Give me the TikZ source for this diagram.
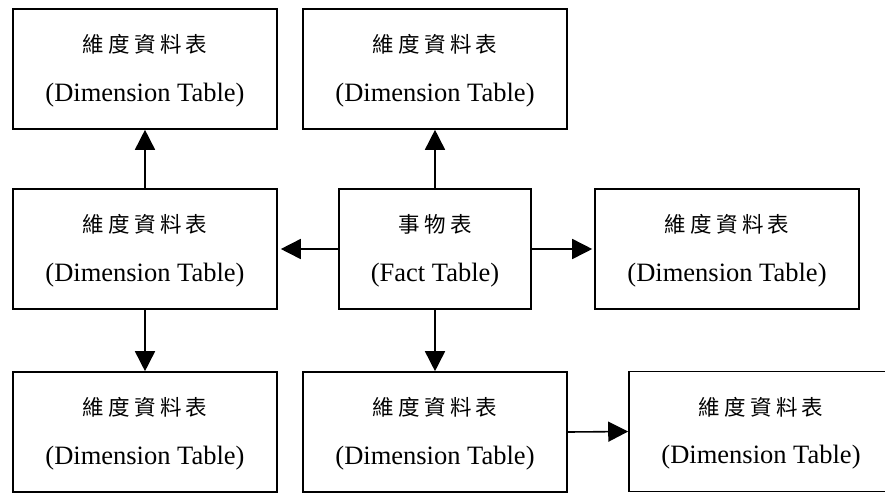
\documentclass[tikz,border=0pt]{standalone}
\usepackage{fontspec}
\setmainfont{Liberation Serif}
\newfontfamily\cjkfont[LetterSpace=20]{Noto Sans CJK TC}
\usetikzlibrary{arrows.meta}

\tikzset{
  tablebox/.style={draw=black, line width=1.6pt, fill=white, align=center,
    minimum width=264pt, minimum height=120pt, inner sep=0pt,
    font=\fontsize{26.5}{48.5}\selectfont},
  factbox/.style={tablebox, minimum width=192pt},
  link/.style={draw=black, line width=1.6pt,
    -{Triangle[length=20pt, width=20pt]}},
}
\newcommand{\zhline}[1]{{\rule{0pt}{22pt}\cjkfont\fontsize{21.5}{48}\selectfont #1}}

\begin{document}
\begin{tikzpicture}[x=1pt, y=-1pt]
  \useasboundingbox (0,0) rectangle (885,493);
  \clip (0,0) rectangle (885,493);
  \fill[white] (0,0) rectangle (885,493);

  % dimension tables around the fact table
  \node[tablebox] (tl) at (145,69)  {\zhline{維度資料表}\\(Dimension Table)};
  \node[tablebox] (tm) at (435,69)  {\zhline{維度資料表}\\(Dimension Table)};
  \node[tablebox] (ml) at (145,249) {\zhline{維度資料表}\\(Dimension Table)};
  \node[factbox]  (ft) at (435,249) {\zhline{事物表}\\(Fact Table)};
  \node[tablebox] (mr) at (727,249) {\zhline{維度資料表}\\(Dimension Table)};
  \node[tablebox] (bl) at (145,432) {\zhline{維度資料表}\\(Dimension Table)};
  \node[tablebox] (bm) at (435,432) {\zhline{維度資料表}\\(Dimension Table)};
  \node[tablebox] (br) at (761,431.5) {\zhline{維度資料表}\\(Dimension Table)};

  % connectors
  \draw[link] (ml.north) -- (tl.south);
  \draw[link] (ft.north) -- (tm.south);
  \draw[link, shorten >=3pt] (ft.west) -- (ml.east);
  \draw[link, shorten >=2pt] (ft.east) -- (mr.west);
  \draw[link] (ml.south) -- (bl.north);
  \draw[link] (ft.south) -- (bm.north);
  \draw[link] (bm.east) -- (br.west);
\end{tikzpicture}
\end{document}
